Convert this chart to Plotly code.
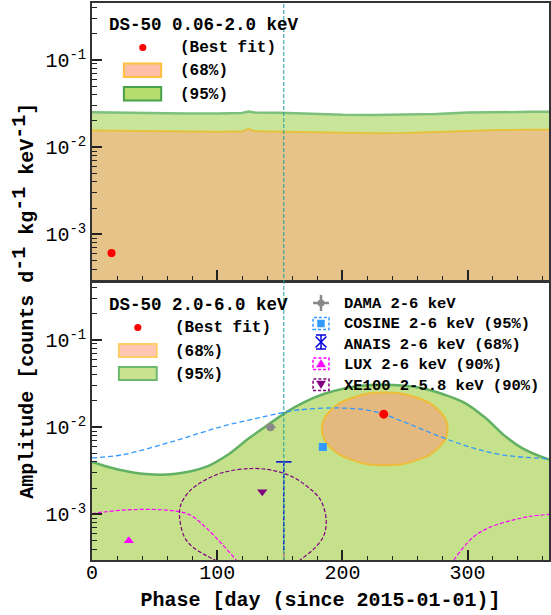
import plotly.graph_objects as go

# ---------------- data ----------------
# Top panel: DS-50 0.06-2.0 keV
top_phase = [0, 25, 50, 75, 100, 120, 125, 130, 150, 175, 200, 225, 250, 275, 300, 325, 350, 365]
top_upper95 = [0.0252, 0.0248, 0.0245, 0.0244, 0.0244, 0.0246, 0.0256, 0.0250, 0.0248, 0.0240,
               0.0235, 0.0234, 0.0235, 0.0240, 0.0249, 0.0253, 0.0254, 0.0254]
top_upper68 = [0.0155, 0.0153, 0.0151, 0.0150, 0.0150, 0.0151, 0.0162, 0.0152, 0.0150, 0.0147,
               0.0145, 0.0144, 0.0145, 0.0149, 0.0154, 0.0157, 0.0158, 0.0158]
top_best_phase = [15.6]
top_best_amp = [0.00061]

# Bottom panel: DS-50 2.0-6.0 keV
bot_phase95 = [0, 20, 43, 67, 91, 110, 125, 140, 155, 170, 185, 200, 215, 232, 250, 265, 280,
               298, 315, 330, 345, 365]
bot_upper95 = [0.00400, 0.00330, 0.00290, 0.00292, 0.00350, 0.00500, 0.00740, 0.01050, 0.01480,
               0.01950, 0.02400, 0.02750, 0.02980, 0.03070, 0.02980, 0.02780, 0.02400, 0.01890,
               0.01250, 0.00790, 0.00560, 0.00425]
bot_phase68 = [284.0, 277.3, 258.9, 233.8, 208.7, 190.3, 183.6, 190.3, 208.7, 233.8, 258.9, 277.3, 284.0]
bot_amp68 = [0.00955, 0.01543, 0.0219, 0.0249, 0.0219, 0.01543, 0.00955, 0.0059, 0.00416, 0.00366,
             0.00416, 0.0059, 0.00955]
bot_best_phase = [233.0]
bot_best_amp = [0.0141]

# Other experiments
dama_phase = [142.5]
dama_amp = [0.0100]
dama_phase_err = [4.2]
dama_amp_err = [0.0008]

cosine_pt_phase = [184.4]
cosine_pt_amp = [0.00593]
cosine_phase = [0, 25, 65, 104, 136, 162, 172, 198, 225, 251, 277.5, 304, 330, 365]
cosine_amp = [0.00444, 0.00485, 0.00689, 0.0102, 0.01306, 0.0156, 0.0161, 0.0166, 0.0152, 0.0112,
              0.00785, 0.00578, 0.00476, 0.00436]

anais_phase = [153.2]
anais_upper = [0.0040]

lux_pt_phase = [29.4]
lux_pt_amp = [0.0005]
lux_left_phase = [0, 8, 25, 43, 62, 78, 91, 104, 115, 121]
lux_left_amp = [0.00102, 0.00106, 0.00112, 0.00114, 0.00111, 0.00099, 0.000705, 0.000454, 0.00030, 0.00023]
lux_right_phase = [284, 289, 304, 317, 336, 350, 365]
lux_right_amp = [0.00023, 0.00030, 0.000542, 0.000705, 0.00086, 0.00095, 0.00100]

xe_pt_phase = [136]
xe_pt_amp = [0.00182]
xe_phase = [100, 91, 80.4, 73.8, 70, 71, 78, 88, 104, 128, 146, 160, 171.7, 182.3, 187, 185, 177, 166.4, 160]
xe_amp = [0.00029, 0.000339, 0.000423, 0.00055, 0.000916, 0.0013, 0.00185, 0.00237, 0.0030, 0.00336,
          0.00316, 0.0027, 0.0021, 0.00148, 0.000877, 0.000565, 0.0004, 0.0003, 0.00025]

june2_phase = 153.2

x_tickvals = [0, 100, 200, 300]
y_tickvals = [1e-3, 1e-2, 1e-1]
y_ticktext = ["10<sup>-3</sup>", "10<sup>-2</sup>", "10<sup>-1</sup>"]
y_minor_vals = [m * 10.0 ** e for e in (-4, -3, -2, -1) for m in range(2, 10)]
X_RANGE = [0, 365]
Y_RANGE = [-3.523, -0.347]
AMP_FLOOR = 1e-5

# ---------------- style ----------------
FONT = "Liberation Mono"
W, H = 551, 615
ML, MR, MT, MB = 92, 0, 3, 55
PW, PH = W - ML - MR, H - MT - MB

GREEN_TOP = "#c8e59a"
GREEN_BOT = "#c5e18c"
GREEN_LINE = "#62b062"
ORANGE_TOP = "#e5c389"
ORANGE_ELL = "#e4b97f"
ORANGE_LINE = "#eebd38"
TEAL = "#1f9e9e"
COS_BLUE = "#3399ff"
ANAIS_BLUE = "#0000dd"
MAGENTA = "#ff00ff"
PURPLE = "#800080"
GRAY = "#888888"


def px(x):
    return (x - ML) / PW


def py(y):
    return (H - MB - y) / PH


fig = go.Figure()

# ---- top panel ----
fig.add_trace(go.Scatter(x=top_phase + top_phase[::-1], y=top_upper95 + [AMP_FLOOR] * len(top_phase),
                         fill="toself", fillcolor=GREEN_TOP, mode="none", xaxis="x", yaxis="y",
                         hoverinfo="skip"))
fig.add_trace(go.Scatter(x=top_phase, y=top_upper95, mode="lines", line=dict(color="#7cc07c", width=2.5),
                         xaxis="x", yaxis="y"))
fig.add_trace(go.Scatter(x=top_phase + top_phase[::-1], y=top_upper68 + [AMP_FLOOR] * len(top_phase),
                         fill="toself", fillcolor=ORANGE_TOP, mode="none", xaxis="x", yaxis="y"))
fig.add_trace(go.Scatter(x=top_phase, y=top_upper68, mode="lines", line=dict(color="#e8c23c", width=2),
                         xaxis="x", yaxis="y"))
fig.add_trace(go.Scatter(x=top_best_phase, y=top_best_amp, mode="markers",
                         marker=dict(color="red", size=8), xaxis="x", yaxis="y"))

# ---- bottom panel ----
fig.add_trace(go.Scatter(x=bot_phase95 + bot_phase95[::-1], y=bot_upper95 + [AMP_FLOOR] * len(bot_phase95),
                         fill="toself", fillcolor=GREEN_BOT, mode="none", xaxis="x2", yaxis="y2"))
fig.add_trace(go.Scatter(x=bot_phase95, y=bot_upper95, mode="lines", line=dict(color=GREEN_LINE, width=2.5, shape="spline"),
                         xaxis="x2", yaxis="y2"))
fig.add_trace(go.Scatter(x=bot_phase68, y=bot_amp68, mode="lines", fill="toself", fillcolor=ORANGE_ELL,
                         line=dict(color=ORANGE_LINE, width=2, shape="spline", smoothing=1.3),
                         xaxis="x2", yaxis="y2"))
fig.add_trace(go.Scatter(x=cosine_phase, y=cosine_amp, mode="lines",
                         line=dict(color=COS_BLUE, width=1.3, dash="5px,3px", shape="spline"),
                         xaxis="x2", yaxis="y2"))
fig.add_trace(go.Scatter(x=lux_left_phase, y=lux_left_amp, mode="lines",
                         line=dict(color=MAGENTA, width=1.2, dash="4px,2px", shape="spline"),
                         xaxis="x2", yaxis="y2"))
fig.add_trace(go.Scatter(x=lux_right_phase, y=lux_right_amp, mode="lines",
                         line=dict(color=MAGENTA, width=1.2, dash="4px,2px", shape="spline"),
                         xaxis="x2", yaxis="y2"))
fig.add_trace(go.Scatter(x=xe_phase, y=xe_amp, mode="lines",
                         line=dict(color=PURPLE, width=1.2, dash="4px,2px", shape="spline"),
                         xaxis="x2", yaxis="y2"))
# ANAIS upper limit
fig.add_trace(go.Scatter(x=anais_phase * 2, y=anais_upper + [AMP_FLOOR], mode="lines",
                         line=dict(color=ANAIS_BLUE, width=1.3, dash="4px,2px"), xaxis="x2", yaxis="y2"))
fig.add_trace(go.Scatter(x=anais_phase, y=anais_upper, mode="markers",
                         marker=dict(symbol="line-ew", size=11, line=dict(color=ANAIS_BLUE, width=1.5)),
                         xaxis="x2", yaxis="y2"))
fig.add_trace(go.Scatter(x=anais_phase, y=[10 ** Y_RANGE[0]], mode="markers",
                         marker=dict(symbol="y-up-open", size=10, line=dict(color=ANAIS_BLUE, width=1.3)),
                         xaxis="x2", yaxis="y2"))
# points
fig.add_trace(go.Scatter(x=dama_phase, y=dama_amp, mode="markers",
                         error_x=dict(type="data", array=dama_phase_err, color=GRAY, thickness=1.5, width=0),
                         error_y=dict(type="data", array=dama_amp_err, color=GRAY, thickness=1.5, width=0),
                         marker=dict(color=GRAY, size=8), xaxis="x2", yaxis="y2"))
fig.add_trace(go.Scatter(x=cosine_pt_phase, y=cosine_pt_amp, mode="markers",
                         marker=dict(color=COS_BLUE, size=8, symbol="square"), xaxis="x2", yaxis="y2"))
fig.add_trace(go.Scatter(x=lux_pt_phase, y=lux_pt_amp, mode="markers",
                         marker=dict(color=MAGENTA, size=9, symbol="triangle-up"), xaxis="x2", yaxis="y2"))
fig.add_trace(go.Scatter(x=xe_pt_phase, y=xe_pt_amp, mode="markers",
                         marker=dict(color=PURPLE, size=9, symbol="triangle-down"), xaxis="x2", yaxis="y2"))
fig.add_trace(go.Scatter(x=bot_best_phase, y=bot_best_amp, mode="markers",
                         marker=dict(color="red", size=9), xaxis="x2", yaxis="y2"))

# ---------------- axes ----------------
axis_common = dict(showline=True, mirror=True, linecolor="#333333", linewidth=1.5,
                   ticks="inside", tickcolor="#222222", tickwidth=1.5, ticklen=10,
                   showgrid=False, zeroline=False,
                   tickfont=dict(family=FONT, size=20, color="black"))
xaxis_common = dict(axis_common, range=X_RANGE, tickvals=x_tickvals,
                    minor=dict(dtick=20, tick0=0, ticks="inside", ticklen=4, tickwidth=1, tickcolor="#222222"))
yaxis_common = dict(axis_common, type="log", range=Y_RANGE, tickvals=y_tickvals, ticktext=y_ticktext,
                    minor=dict(tickvals=y_minor_vals, ticks="inside", ticklen=5, tickwidth=1, tickcolor="#222222"))

y_split_top = py(280)
y_split_bot = py(283)

fig.update_layout(
    width=W, height=H, margin=dict(l=ML, r=MR, t=MT, b=MB),
    plot_bgcolor="white", paper_bgcolor="white", showlegend=False,
    font=dict(family=FONT, color="black"),
    xaxis=dict(xaxis_common, domain=[0, 1], anchor="y", showticklabels=False),
    yaxis=dict(yaxis_common, domain=[y_split_top, 1], anchor="x"),
    xaxis2=dict(xaxis_common, domain=[0, 1], anchor="y2", ticklabelstandoff=-7,
                title=dict(text="<b>Phase [day (since 2015-01-01)]</b>", font=dict(family=FONT, size=20),
                           standoff=8)),
    yaxis2=dict(yaxis_common, domain=[0, y_split_bot], anchor="x2"),
)

shapes = []
annotations = []

# vertical reference line across both panels
shapes.append(dict(type="line", xref="x2", yref="paper", x0=june2_phase, x1=june2_phase, y0=0, y1=1,
                   line=dict(color=TEAL, width=1, dash="4px,2px"), layer="above"))

# y-axis title (superscripts kept at full size as in the reference)
SUP = '<sup><span style="font-size:20px">-1</span></sup>'
annotations.append(dict(xref="paper", yref="paper", x=px(22.5), y=py(301), showarrow=False, textangle=-90,
                        xanchor="center", yanchor="middle",
                        text="<b>Amplitude [counts d" + SUP + " kg" + SUP + " keV" + SUP + "]</b>",
                        font=dict(family=FONT, size=20, color="black")))


def text(x, y, s, size=16):
    annotations.append(dict(xref="paper", yref="paper", x=px(x), y=py(y), xanchor="left", yanchor="middle",
                            showarrow=False, text="<b>" + s + "</b>",
                            font=dict(family=FONT, size=size, color="black")))


def rect(x0, y0, x1, y1, fill, line, width=2, dash="solid"):
    shapes.append(dict(type="rect", xref="paper", yref="paper", x0=px(x0), x1=px(x1), y0=py(y1), y1=py(y0),
                       fillcolor=fill, line=dict(color=line, width=width, dash=dash), layer="above"))


def circle(cx, cy, r, color):
    shapes.append(dict(type="circle", xref="paper", yref="paper", x0=px(cx - r), x1=px(cx + r),
                       y0=py(cy + r), y1=py(cy - r), fillcolor=color, line=dict(color=color, width=0),
                       layer="above"))


def seg(x0, y0, x1, y1, color, width=1.5):
    shapes.append(dict(type="line", xref="paper", yref="paper", x0=px(x0), x1=px(x1), y0=py(y0), y1=py(y1),
                       line=dict(color=color, width=width), layer="above"))


def poly(pts, color):
    d = "M " + " L ".join(f"{px(a):.5f},{py(b):.5f}" for a, b in pts) + " Z"
    shapes.append(dict(type="path", xref="paper", yref="paper", path=d, fillcolor=color,
                       line=dict(color=color, width=0.5), layer="above"))


# top legend
text(107, 25, "DS-50 0.06-2.0 keV", 17.5)
circle(143, 47.5, 3.6, "red")
text(178, 48, "(Best fit)")
rect(124, 63.5, 161.5, 77, "#ffbfa6", "#ffc040")
text(178, 71, "(68%)")
rect(124, 87, 161.5, 100.5, "#b5dd6e", "#4aa04a")
text(178, 94.5, "(95%)")

# bottom-left legend
text(107, 305, "DS-50 2.0-6.0 keV", 17.5)
circle(138, 327.5, 3.6, "red")
text(173, 328, "(Best fit)")
rect(119, 344, 157, 357, "#ffc6b2", "#ffcc66")
text(173, 351.5, "(68%)")
rect(119, 367, 157, 380, "#c8e290", "#6cb86c")
text(173, 374.5, "(95%)")

# bottom-right legend
gx = 322
seg(gx - 8, 303, gx + 8, 303, GRAY, 2.5)
seg(gx, 295, gx, 311, GRAY, 2.5)
circle(gx, 303, 3.5, GRAY)
text(343, 304, "DAMA 2-6 keV", 15.5)

rect(gx - 8, 317.5, gx + 8, 329.5, "rgba(0,0,0,0)", COS_BLUE, 1.5, "3px,2px")
rect(gx - 3.5, 320, gx + 3.5, 327, COS_BLUE, COS_BLUE, 0.5)
text(343, 324, "COSINE 2-6 keV (95%)", 15.5)

seg(gx, 335, gx, 349, ANAIS_BLUE, 1.5)
seg(gx - 5, 335, gx + 5, 335, ANAIS_BLUE, 1.5)
seg(gx - 5, 349, gx + 5, 349, ANAIS_BLUE, 1.5)
seg(gx - 5.5, 336.5, gx + 5.5, 347.5, ANAIS_BLUE, 1.5)
seg(gx - 5.5, 347.5, gx + 5.5, 336.5, ANAIS_BLUE, 1.5)
text(343, 345, "ANAIS 2-6 keV (68%)", 15.5)

rect(gx - 8, 358, gx + 8, 369.5, "rgba(0,0,0,0)", MAGENTA, 1.5, "3px,2px")
poly([(gx, 359.5), (gx - 4.5, 367), (gx + 4.5, 367)], MAGENTA)
text(343, 365, "LUX 2-6 keV (90%)", 15.5)

rect(gx - 8, 379, gx + 8, 390.5, "rgba(0,0,0,0)", PURPLE, 1.5, "3px,2px")
poly([(gx - 4.5, 381), (gx + 4.5, 381), (gx, 388.5)], PURPLE)
text(343, 386, "XE100 2-5.8 keV (90%)", 15.5)

fig.update_layout(shapes=shapes, annotations=annotations)

fig.write_html("out.html", config={"displayModeBar": False},
               post_script="document.body.style.margin='0px';document.body.style.overflow='hidden';")
